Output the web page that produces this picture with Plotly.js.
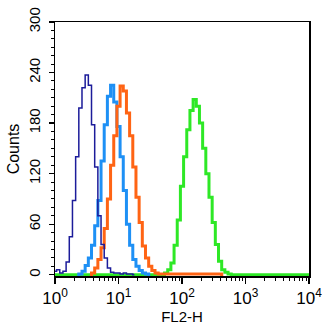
<!DOCTYPE html>
<html><head><meta charset="utf-8">
<script src="https://cdn.plot.ly/plotly-3.0.1.min.js"></script>
<style>html,body{margin:0;padding:0;background:#fff}#chart{width:334px;height:333px}</style>
</head><body><div id="chart"></div>
<script>
// Bin positions are log10(FL2-H) channel centres, 0.05 decade apart
const binStep = 0.05;
// Counts per bin, each series starts at its own first bin (log10 value)
const navyStart = 0.00;
const navyCounts = [4,6,2,4,15,45,88,140,198,222,237,225,178,128,70,36,20,8,3,2,2,1,2,1,1,0];
const blueStart = 0.35;
const blueCounts = [0,1,4,11,20,35,58,88,135,178,212,225,205,176,140,100,60,35,18,10,5,2,1,0];
const orangeStart = 0.55;
const orangeCounts = [0,2,8,18,32,55,90,130,165,200,224,218,192,165,128,92,62,34,20,10,5,2,1,1,1,1,1,1,1,1,1,1,1,1,1,1,1,1,1,1,1,1,0];
const greenStart = 0.00;
const greenCounts = [0,0,0,0,0,0,0,0,0,0,0,0,0,0,0,0,0,0,0,0,0,0,0,0,0,0,0,0,0,0,0,0,0,0,0,
  2,6,14,35,65,105,140,172,195,208,200,180,150,120,92,62,36,16,6,3,1,
  0,0,0,0,0,0,0,0,0,0,0,0,0,0,0,0,0,0,0,0,0,0,0,0,0];
const yTicks = [0,60,120,180,240,300];
const xTickVals = [1,10,100,1000,10000];
const xTickText = ['10<sup>0</sup>','10<sup>1</sup>','10<sup>2</sup>','10<sup>3</sup>','10<sup>4</sup>'];
const xTitle = "FL2-H";
const yTitle = "Counts";

function xs(start, n){ const a=[]; for(let i=0;i<n;i++){ a.push(Math.pow(10, start + i*binStep)); } return a; }
function tr(start, counts, color, width){
  return {x: xs(start, counts.length), y: counts, type:'scatter', mode:'lines',
    line:{color:color, width:width, shape:'hvh'}, hoverinfo:'skip'};
}
const data = [
  tr(greenStart, greenCounts, '#2ee826', 3),
  tr(blueStart, blueCounts, '#1e90f5', 3),
  tr(orangeStart, orangeCounts, '#ff6414', 3),
  tr(navyStart, navyCounts, '#1c1c9a', 1.5)
];
const layout = {
  width:334, height:333,
  margin:{l:55, r:25, t:22, b:57},
  paper_bgcolor:'#fff', plot_bgcolor:'#fff',
  showlegend:false,
  font:{family:'"Liberation Sans", Arial, sans-serif', color:'#000', size:14},
  xaxis:{type:'log', range:[0,4], tickvals:xTickVals, ticktext:xTickText,
    showgrid:false, zeroline:false, showline:true, linecolor:'#000', linewidth:1.5, mirror:true,
    ticks:'outside', ticklen:6, tickwidth:1.2, tickcolor:'#000',
    minor:{dtick:'D1', ticks:'outside', ticklen:3, tickwidth:1, tickcolor:'#000', showgrid:false},
    tickfont:{size:17}, title:{text:xTitle, font:{size:15}, standoff:2}},
  yaxis:{range:[-1.5,300], tickvals:yTicks, tickangle:-90, ticklabelstandoff:3,
    showgrid:false, zeroline:false, showline:true, linecolor:'#000', linewidth:1.5, mirror:true,
    ticks:'outside', ticklen:5, tickwidth:1.2, tickcolor:'#000',
    minor:{dtick:10, ticks:'outside', ticklen:3, tickwidth:1, tickcolor:'#000', showgrid:false},
    tickfont:{size:15}, title:{text:yTitle, font:{size:16}, standoff:2}}
};
Plotly.newPlot('chart', data, layout, {staticPlot:true, displayModeBar:false});
</script></body></html>
